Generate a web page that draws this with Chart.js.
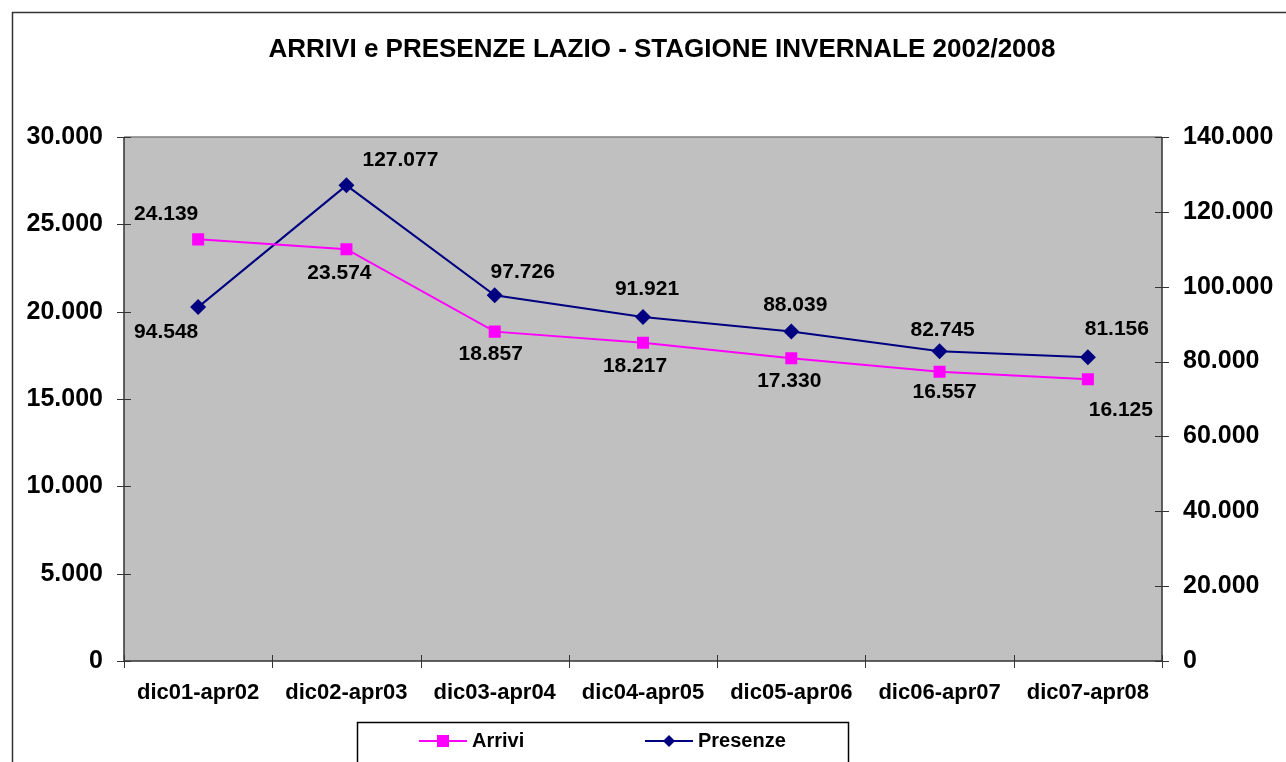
<!DOCTYPE html>
<html><head><meta charset="utf-8">
<script src="https://cdn.jsdelivr.net/npm/chart.js@4/dist/chart.umd.min.js"></script>
<style>html,body{margin:0;padding:0;background:#fff;overflow:hidden}#wrap{width:1286px;height:762px;position:relative}canvas{display:block}</style>
</head><body><div id="wrap"><canvas id="c" width="1286" height="762"></canvas></div>
<script>
const categories = ['dic01-apr02','dic02-apr03','dic03-apr04','dic04-apr05','dic05-apr06','dic06-apr07','dic07-apr08'];
const arrivi = [24139, 23574, 18857, 18217, 17330, 16557, 16125];
const presenze = [94548, 127077, 97726, 91921, 88039, 82745, 81156];
const seriesNames = ['Arrivi', 'Presenze'];
const chartTitle = 'ARRIVI e PRESENZE LAZIO - STAGIONE INVERNALE 2002/2008';
const leftAxis = {min: 0, max: 30000, step: 5000};
const rightAxis = {min: 0, max: 140000, step: 20000};

const FONT = '"Liberation Sans", Arial, sans-serif';
const fmt = v => String(Math.round(v)).replace(/\B(?=(\d{3})+(?!\d))/g, '.');

// label offsets (style only): [dx, dy] relative to each point
const labelOffsets = [
  [[-32,-25],[-7,24],[-4,23],[-8,23],[-2,23],[5,20],[33,31]],
  [[-32,25],[54,-25],[28,-23],[4,-28],[4,-26],[3,-21],[29,-28]]
];

const deco = {
  id: 'deco',
  beforeDraw(chart) {
    const {ctx, chartArea: a} = chart;
    ctx.save();
    ctx.fillStyle = '#fff';
    ctx.fillRect(0, 0, chart.width, chart.height);
    ctx.fillStyle = '#C0C0C0';
    ctx.fillRect(a.left, a.top, a.right - a.left, a.bottom - a.top);
    ctx.strokeStyle = '#333';
    ctx.lineWidth = 1.5;
    ctx.strokeRect(12.5, 12.5, 1400, 900);
    ctx.strokeStyle = '#808080';
    ctx.lineWidth = 1.5;
    ctx.beginPath(); ctx.moveTo(a.left, a.top); ctx.lineTo(a.right, a.top); ctx.stroke();
    ctx.strokeStyle = '#333';
    ctx.lineWidth = 1.5;
    ctx.beginPath();
    ctx.moveTo(a.left, a.top); ctx.lineTo(a.left, a.bottom);
    ctx.moveTo(a.right, a.top); ctx.lineTo(a.right, a.bottom);
    ctx.moveTo(a.left, a.bottom); ctx.lineTo(a.right, a.bottom);
    ctx.stroke();
    ctx.lineWidth = 1;
    ctx.beginPath();
    const y = chart.scales.y, y1 = chart.scales.y1, x = chart.scales.x;
    y.ticks.forEach(t => { const p = Math.round(y.getPixelForValue(t.value)) + 0.5; ctx.moveTo(a.left - 7, p); ctx.lineTo(a.left + 7, p); });
    y1.ticks.forEach(t => { const p = Math.round(y1.getPixelForValue(t.value)) + 0.5; ctx.moveTo(a.right - 7, p); ctx.lineTo(a.right + 7, p); });
    const n = categories.length;
    for (let i = 0; i <= n; i++) {
      let px;
      if (i === 0) px = a.left; else if (i === n) px = a.right;
      else px = (x.getPixelForValue(i - 1) + x.getPixelForValue(i)) / 2;
      px = Math.round(px) + 0.5;
      ctx.moveTo(px, a.bottom - 6); ctx.lineTo(px, a.bottom + 7);
    }
    ctx.stroke();
    ctx.restore();
  },
  afterDraw(chart) {
    const {ctx} = chart;
    ctx.save();
    ctx.fillStyle = '#000';
    ctx.font = 'bold 26px ' + FONT;
    ctx.textAlign = 'center';
    ctx.textBaseline = 'middle';
    ctx.fillText(chartTitle, 662, 50);
    ctx.font = 'bold 21px ' + FONT;
    chart.data.datasets.forEach((ds, di) => {
      const meta = chart.getDatasetMeta(di);
      meta.data.forEach((pt, i) => {
        const off = labelOffsets[di][i];
        ctx.fillText(fmt(ds.data[i]), pt.x + off[0], pt.y + off[1]);
      });
    });
    ctx.fillStyle = '#fff';
    ctx.fillRect(357, 722, 491, 60);
    ctx.strokeStyle = '#000';
    ctx.lineWidth = 1.5;
    ctx.strokeRect(357.5, 722.5, 491, 60);
    const items = [{x: 419}, {x: 645}];
    chart.data.datasets.forEach((ds, di) => {
      const lx = items[di].x, ly = 741;
      ctx.strokeStyle = ds.borderColor;
      ctx.lineWidth = 2;
      ctx.beginPath(); ctx.moveTo(lx, ly); ctx.lineTo(lx + 48, ly); ctx.stroke();
      ctx.fillStyle = ds.backgroundColor;
      const cx = lx + 24;
      if (di === 0) {
        ctx.fillRect(cx - 6, ly - 6, 12, 12);
      } else {
        ctx.beginPath();
        ctx.moveTo(cx, ly - 6); ctx.lineTo(cx + 6, ly); ctx.lineTo(cx, ly + 6); ctx.lineTo(cx - 6, ly);
        ctx.closePath(); ctx.fill();
      }
      ctx.fillStyle = '#000';
      ctx.font = 'bold 20px ' + FONT;
      ctx.textAlign = 'left';
      ctx.fillText(ds.label, lx + 53, ly);
    });
    ctx.restore();
  }
};

const tickFont = {family: FONT, size: 25, weight: 'bold'};
new Chart(document.getElementById('c'), {
  type: 'line',
  data: {
    labels: categories,
    datasets: [
      {label: seriesNames[0], data: arrivi, yAxisID: 'y', borderColor: '#FF00FF', backgroundColor: '#FF00FF', borderWidth: 2, pointStyle: 'rect', pointRadius: 8.5, pointHoverRadius: 8.5, pointBorderWidth: 0, tension: 0},
      {label: seriesNames[1], data: presenze, yAxisID: 'y1', borderColor: '#000080', backgroundColor: '#000080', borderWidth: 2, pointStyle: 'rectRot', pointRadius: 8, pointHoverRadius: 8, pointBorderWidth: 0, tension: 0}
    ]
  },
  options: {
    responsive: false, animation: false, devicePixelRatio: 1,
    events: [],
    layout: {padding: {top: 137, left: 0, right: 0, bottom: 0}},
    plugins: {legend: {display: false}, title: {display: false}, tooltip: {enabled: false}},
    scales: {
      x: {
        offset: true,
        grid: {display: false, drawTicks: false}, border: {display: false},
        ticks: {font: {family: FONT, size: 22, weight: 'bold'}, color: '#000', padding: 19, maxRotation: 0, autoSkip: false},
        afterFit: s => { s.height = 101; }
      },
      y: {
        position: 'left', min: leftAxis.min, max: leftAxis.max,
        grid: {display: false, drawTicks: false}, border: {display: false},
        ticks: {stepSize: leftAxis.step, callback: fmt, padding: 21, font: tickFont, color: '#000'},
        afterFit: s => { s.width = 124; }
      },
      y1: {
        position: 'right', min: rightAxis.min, max: rightAxis.max,
        grid: {display: false, drawTicks: false}, border: {display: false},
        ticks: {stepSize: rightAxis.step, callback: fmt, padding: 21, font: tickFont, color: '#000'},
        afterFit: s => { s.width = 124; }
      }
    }
  },
  plugins: [deco]
});
</script>
</body></html>
